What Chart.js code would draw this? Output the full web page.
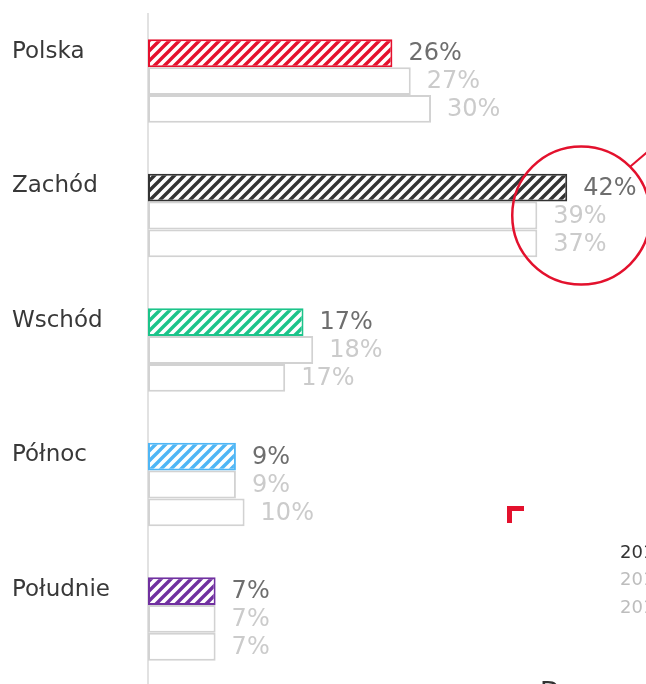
<!DOCTYPE html>
<html lang="pl">
<head>
<meta charset="UTF-8">
<title>Regiony</title>
<script src="https://cdn.jsdelivr.net/npm/chart.js"></script>
<style>
  html, body { margin: 0; padding: 0; background: #fff; overflow: hidden; }
  #wrap { width: 646px; height: 700px; }
</style>
</head>
<body>
<div id="wrap"><canvas id="regionChart" width="646" height="700"></canvas></div>
<script>
const regions = ["Polska", "Zachód", "Wschód", "Północ", "Południe"];
const years = ["2019", "2018", "2017"];
// bar lengths as drawn
const share2019 = [25.3, 43.4, 16.1, 9.1, 7.0];
const share2018 = [27.2, 40.3, 17.1, 9.1, 7.0];
const share2017 = [29.3, 40.3, 14.2, 10.0, 7.0];
// values printed next to the bars
const printed2019 = [26, 42, 17, 9, 7];
const printed2018 = [27, 39, 18, 9, 7];
const printed2017 = [30, 37, 17, 10, 7];
const regionColors = ["#e5102d", "#333333", "#1cc48a", "#4fb6f5", "#7030a0"];

const RED = "#e3112d";
const canvas = document.getElementById("regionChart");
const ctx = canvas.getContext("2d");

// diagonal stripes on white
function hatch(color) {
    const c = document.createElement("canvas");
    c.width = 10; c.height = 10;
    const g = c.getContext("2d");
    g.fillStyle = "#fff";
    g.fillRect(0, 0, 10, 10);
    g.strokeStyle = color;
    g.lineWidth = 3.4;
    g.beginPath();
    g.moveTo(-5, 5); g.lineTo(5, -5);
    g.moveTo(0, 10); g.lineTo(10, 0);
    g.moveTo(5, 15); g.lineTo(15, 5);
    g.stroke();
    return ctx.createPattern(c, "repeat");
}

const valueLabels = {
    id: "valueLabels",
    afterDatasetsDraw(chart) {
        const c = chart.ctx;
        c.save();
        c.font = '24px "DejaVu Sans"';
        c.textBaseline = "middle";
        c.textAlign = "left";
        chart.data.datasets.forEach((ds, di) => {
            c.fillStyle = di === 0 ? "#6e6e6e" : "#cbcbcb";
            chart.getDatasetMeta(di).data.forEach((bar, i) => {
                c.fillText(ds.printed[i] + "%", bar.x + 16, bar.y + 1);
            });
        });
        c.restore();
    }
};

const extras = {
    id: "extras",
    afterDraw(chart) {
        const c = chart.ctx;
        const bar = chart.getDatasetMeta(0).data[1];
        const cx = bar.x + 14;
        const cy = chart.scales.y.getPixelForValue(1);
        const r = 69;
        c.save();
        c.strokeStyle = RED;
        c.lineWidth = 2.5;
        c.beginPath();
        c.arc(cx, cy, r, 0, Math.PI * 2);
        c.stroke();
        const a = Math.PI / 4;
        c.lineWidth = 2;
        c.beginPath();
        c.moveTo(cx + r * Math.cos(a), cy - r * Math.sin(a));
        c.lineTo(cx + r * Math.cos(a) + 40, cy - r * Math.sin(a) - 34);
        c.stroke();

        // corner of the legend box
        c.fillStyle = RED;
        c.fillRect(507, 506, 17, 5);
        c.fillRect(507, 506, 5, 17);

        // legend
        c.font = '18px "DejaVu Sans"';
        c.textBaseline = "middle";
        c.textAlign = "left";
        years.forEach((y, i) => {
            c.fillStyle = i === 0 ? "#333" : "#bdbdbd";
            c.fillText(y, 620, 553 + i * 27.5);
        });

        c.font = '26px "DejaVu Sans"';
        c.textBaseline = "top";
        c.fillStyle = "#333";
        c.fillText("Dane", 540, 681);
        c.restore();
    }
};

new Chart(ctx, {
    type: "bar",
    data: {
        labels: regions,
        datasets: [
            {
                label: years[0],
                data: share2019,
                printed: printed2019,
                backgroundColor: regionColors.map(hatch),
                borderColor: regionColors,
                borderWidth: 2,
                borderSkipped: false
            },
            {
                label: years[1],
                data: share2018,
                printed: printed2018,
                backgroundColor: "#fff",
                borderColor: "#d2d2d2",
                borderWidth: 2,
                borderSkipped: false
            },
            {
                label: years[2],
                data: share2017,
                printed: printed2017,
                backgroundColor: "#fff",
                borderColor: "#d2d2d2",
                borderWidth: 2,
                borderSkipped: false
            }
        ]
    },
    options: {
        indexAxis: "y",
        responsive: false,
        animation: false,
        devicePixelRatio: 1,
        categoryPercentage: 0.62,
        barPercentage: 1,
        layout: { padding: { left: 12, top: 9, right: 15, bottom: 13 } },
        plugins: { legend: { display: false }, tooltip: { enabled: false } },
        scales: {
            x: { display: false, min: 0, max: 50 },
            y: {
                grid: { display: false },
                border: { display: true, color: "#e2e2e2", width: 2 },
                ticks: {
                    crossAlign: "far",
                    labelOffset: -29,
                    padding: 0,
                    color: "#383838",
                    font: { family: "DejaVu Sans", size: 23 }
                },
                afterFit(scale) { scale.width = 136; }
            }
        }
    },
    plugins: [valueLabels, extras]
});
</script>
</body>
</html>
